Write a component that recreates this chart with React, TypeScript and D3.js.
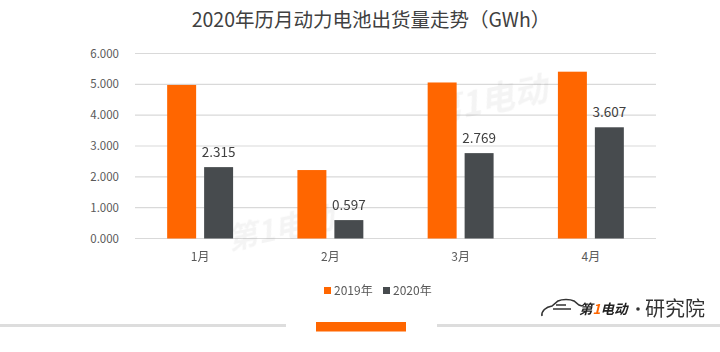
import React from 'react';
import * as d3 from 'd3';

const months = ['1月', '2月', '3月', '4月'];
const seriesNames = ['2019年', '2020年'];
const values2019 = [4.98, 2.22, 5.06, 5.41];
const values2020 = [2.315, 0.597, 2.769, 3.607];
const yTicks = [0, 1, 2, 3, 4, 5, 6];
const title = '2020年历月动力电池出货量走势（GWh）';

const W = 720;
const H = 352;
const colors = ['#FF6600', '#474B4E'];
const font = '"Noto Sans CJK SC", "Noto Sans", sans-serif';

function App() {
  const x = d3.scaleBand<string>().domain(months).range([135, 656]);
  const xInner = d3
    .scaleBand<string>()
    .domain(seriesNames)
    .range([0, x.bandwidth()])
    .paddingInner(0.216)
    .paddingOuter(0.87);
  const y = d3.scaleLinear().domain([0, 6]).range([238.5, 53.5]);

  const rows = months.map((m, i) => ({ m, vals: [values2019[i], values2020[i]] }));

  return (
    <svg
      width={W}
      height={H}
      style={{ position: 'fixed', left: 0, top: 0, background: '#fff' }}
      fontFamily={font}
    >
      <rect width={W} height={H} fill="#fff" />
      <text x={371} y={27} textAnchor="middle" fontSize={19.5} fill="#404040">
        {title}
      </text>

      {/* gridlines + y labels */}
      {yTicks.map(t => (
        <g key={t}>
          <line x1={135} x2={656} y1={y(t)} y2={y(t)} stroke="#D9D9D9" strokeWidth={1.2} />
          <text x={119} y={y(t) + 4} textAnchor="end" fontSize={11.5} fill="#595959">
            {d3.format('.3f')(t)}
          </text>
        </g>
      ))}

      {/* watermarks */}
      <g opacity={0.08} fontWeight="bold" fontStyle="italic" fill="#777">
        <text x={230} y={250} fontSize={30} transform="rotate(-12 230 250)">第1电动</text>
        <text x={430} y={125} fontSize={34} transform="rotate(-12 430 125)">第1电动</text>
      </g>

      {rows.map(r => (
        <g key={r.m} transform={`translate(${x(r.m)},0)`}>
          {r.vals.map((v, j) => (
            <rect
              key={j}
              x={xInner(seriesNames[j])}
              y={y(v)}
              width={xInner.bandwidth()}
              height={y(0) - y(v)}
              fill={colors[j]}
            />
          ))}
          <text
            x={(xInner(seriesNames[1]) ?? 0) + xInner.bandwidth() / 2}
            y={y(r.vals[1]) - 10}
            textAnchor="middle"
            fontSize={13.5}
            fill="#404040"
          >
            {d3.format('.3f')(r.vals[1])}
          </text>
          <text x={x.bandwidth() / 2} y={261} textAnchor="middle" fontSize={12} fill="#595959">
            {r.m}
          </text>
        </g>
      ))}

      {/* legend */}
      {seriesNames.map((s, i) => (
        <g key={s} transform={`translate(${324 + i * 59},0)`}>
          <rect x={0} y={287} width={7} height={7} fill={colors[i]} />
          <text x={10} y={295} fontSize={12} fill="#595959">
            {s}
          </text>
        </g>
      ))}

      {/* footer decoration */}
      <rect x={0} y={324} width={286} height={3} fill="#DDDDDD" />
      <rect x={437} y={324} width={283} height={3} fill="#DDDDDD" />
      <rect x={316} y={322} width={90} height={9.5} fill="#FF6600" />

      {/* logo */}
      <g>
        <path
          d="M542,316 C541,311 546,307 552,306 L558,301 C562,299 570,299 574,301 L579,305 L582,306"
          fill="none"
          stroke="#333"
          strokeWidth={1.6}
        />
        <path d="M556,305 L566,305 M553,309 L571,309" stroke="#333" strokeWidth={1.6} />
        <text x={579} y={314} fontSize={13.5} fontWeight="bold" fontStyle="italic" fill="#222">
          第<tspan fill="#FF6600">1</tspan>电动
        </text>
        <circle cx={638} cy={309} r={1.8} fill="#333" />
        <text x={645} y={316} fontSize={20} fill="#333">
          研究院
        </text>
      </g>
    </svg>
  );
}

export default App;
